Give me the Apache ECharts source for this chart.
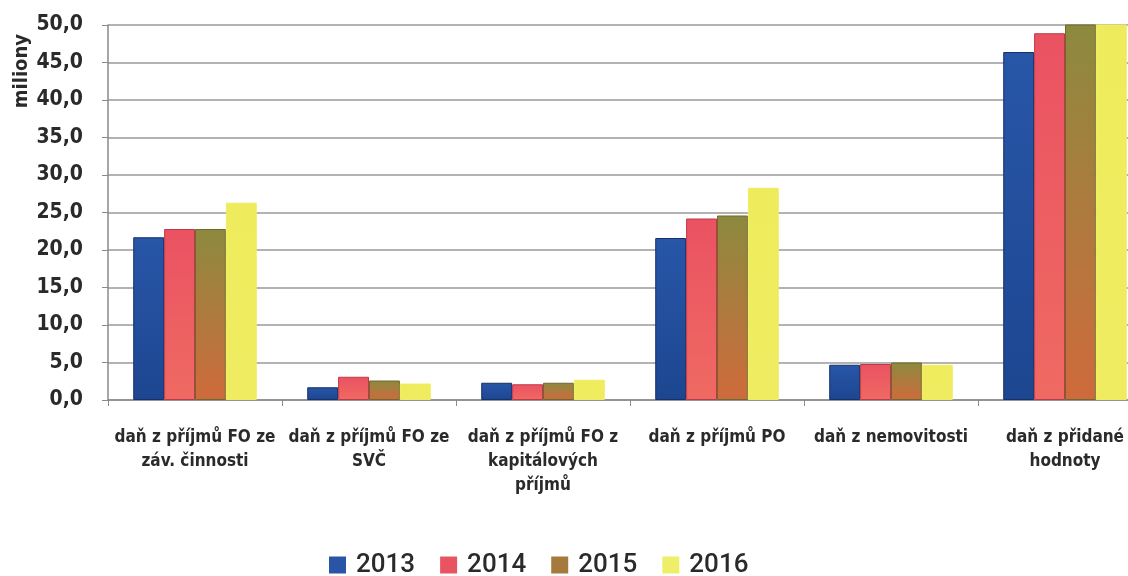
<!DOCTYPE html>
<html>
<head>
<meta charset="utf-8">
<script src="https://cdn.jsdelivr.net/npm/echarts@6/dist/echarts.min.js"></script>
<style>
  html, body { margin: 0; padding: 0; background: #fff; }
  #chart { width: 1128px; height: 576px; }
</style>
</head>
<body>
<div id="chart"></div>
<script>
// kategorie (osa x)
var categories = [
  'daň z příjmů FO ze\nzáv. činnosti',
  'daň z příjmů FO ze\nSVČ',
  'daň z příjmů FO z\nkapitálových\npříjmů',
  'daň z příjmů PO',
  'daň z nemovitosti',
  'daň z přidané\nhodnoty'
];
var years = ['2013', '2014', '2015', '2016'];
// hodnoty v milionech
var v2013 = [21.7, 1.7, 2.3, 21.6, 4.7, 46.4];
var v2014 = [22.8, 3.1, 2.1, 24.2, 4.8, 48.9];
var v2015 = [22.8, 2.6, 2.3, 24.6, 5.0, 50.6];
var v2016 = [26.3, 2.2, 2.7, 28.3, 4.7, 52.0];
var yTicks = { min: 0, max: 50, interval: 5 };

var condensed = '"DejaVu Sans Condensed", "DejaVu Sans", sans-serif';

function grad(top, bottom) {
  return new echarts.graphic.LinearGradient(0, 0, 0, 1, [
    { offset: 0, color: top }, { offset: 1, color: bottom }
  ]);
}

var styles = [
  { color: grad('#2856a8', '#1d4690'), borderColor: '#16306a' },
  { color: grad('#ea5262', '#ef6a62'), borderColor: '#c03848' },
  { color: grad('#8c8a3e', '#cf6a3c'), borderColor: '#6e6a2c' },
  { color: grad('#eeec5c', '#f0ec62'), borderColor: '#f0ec62' }
];
var legendColors = ['#2a55a6', '#e95463', '#a57a3c', '#eeee68'];
var data = [v2013, v2014, v2015, v2016];

var myChart = echarts.init(document.getElementById('chart'));
myChart.setOption({
  animation: false,
  grid: { left: 108, top: 25, width: 1044, height: 375, outerBoundsMode: 'none', containLabel: false },
  graphic: [{
    type: 'text',
    left: 12, top: 34,
    rotation: Math.PI / 2,
    style: { text: 'miliony', font: 'bold 20px ' + condensed, fill: '#2a2a2a' }
  }],
  legend: {
    top: 547,
    left: 324,
    itemWidth: 17,
    itemHeight: 17,
    itemGap: 25,
    icon: 'rect',
    textStyle: { fontSize: 26, color: '#2a2a2a', fontFamily: 'Roboto, sans-serif', fontWeight: 500, padding: [0, 0, 0, 5] },
    data: years.map(function (y, i) {
      return { name: y, itemStyle: { color: legendColors[i], borderWidth: 0 } };
    })
  },
  xAxis: {
    type: 'category',
    data: categories,
    axisLine: { lineStyle: { color: '#8a8a8a', width: 1.5 } },
    axisTick: { show: true, alignWithLabel: false, length: 6, lineStyle: { color: '#8a8a8a' } },
    axisLabel: {
      interval: 0,
      margin: 26,
      color: '#2a2a2a',
      fontSize: 17,
      fontWeight: 'bold',
      fontFamily: condensed,
      lineHeight: 24
    }
  },
  yAxis: {
    type: 'value',
    min: yTicks.min,
    max: yTicks.max,
    interval: yTicks.interval,
    axisLine: { show: true, lineStyle: { color: '#8a8a8a', width: 1.5 } },
    axisTick: { show: true, length: 6, lineStyle: { color: '#8a8a8a' } },
    splitLine: { lineStyle: { color: '#9a9a9a', width: 1.5 } },
    axisLabel: {
      margin: 25,
      color: '#2a2a2a',
      fontSize: 21,
      fontWeight: 'bold',
      fontFamily: condensed,
      formatter: function (v) { return v.toFixed(1).replace('.', ','); }
    }
  },
  series: years.map(function (y, i) {
    return {
      name: y,
      type: 'bar',
      data: data[i],
      barGap: '0%',
      barCategoryGap: '29%',
      clip: true,
      itemStyle: { color: styles[i].color, borderColor: styles[i].borderColor, borderWidth: 1 }
    };
  })
});
</script>
</body>
</html>
